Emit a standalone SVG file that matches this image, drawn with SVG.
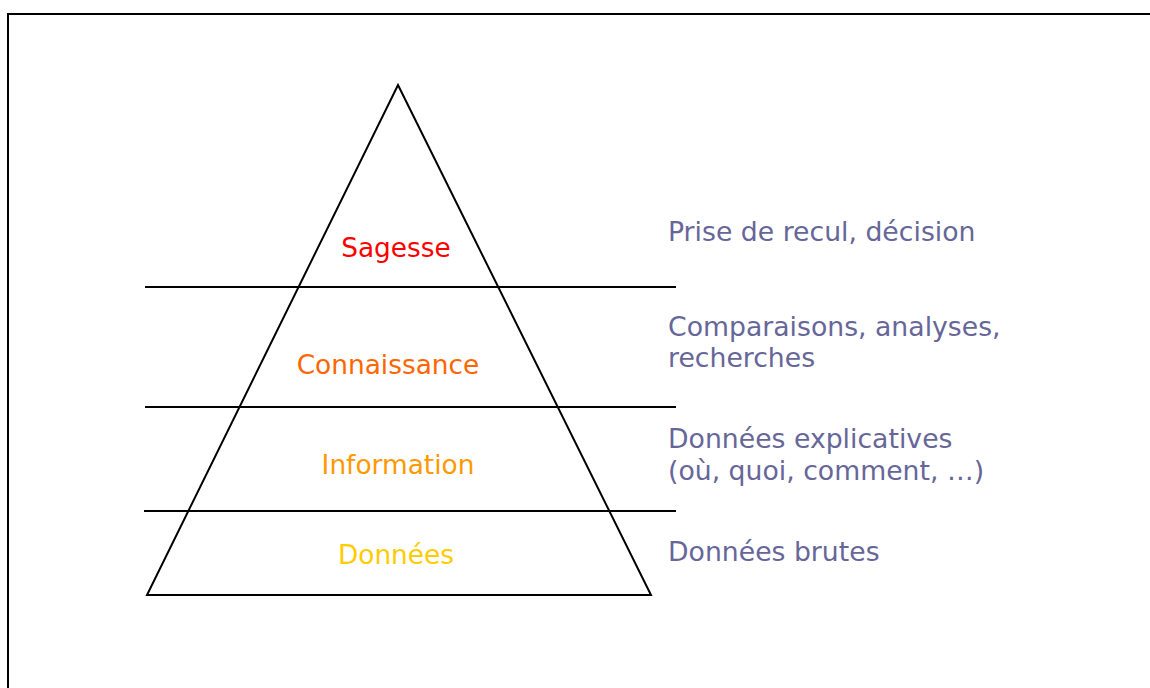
<svg xmlns="http://www.w3.org/2000/svg" width="1150" height="688" viewBox="0 0 1150 688">
<style>
.ln{stroke:#000;stroke-width:2;fill:none}
.lvl{font-family:"DejaVu Sans",Verdana,sans-serif;font-size:26.4px;text-anchor:middle}
.desc{font-family:"DejaVu Sans",Verdana,sans-serif;font-size:26.7px;fill:#666699}
</style>
<rect x="0" y="0" width="1150" height="688" fill="#fff"/>
<rect x="8" y="14" width="1160" height="700" class="ln"/>
<g id="pyramid">
<polygon points="398,85 651,595 147,595" class="ln"/>
</g>
<g id="connectors">
<line x1="145" y1="287" x2="676" y2="287" class="ln"/>
<line x1="145" y1="407" x2="676" y2="407" class="ln"/>
<line x1="144" y1="511" x2="676" y2="511" class="ln"/>
</g>
<g id="sagesse"><text x="396" y="257" class="lvl" fill="#ff0000">Sagesse</text><text x="668" y="241" class="desc">Prise de recul, décision</text></g>
<g id="connaissance"><text x="388" y="374" class="lvl" fill="#ff6600">Connaissance</text><text x="668" y="336" class="desc">Comparaisons, analyses,</text><text x="668" y="367" class="desc">recherches</text></g>
<g id="information"><text x="398" y="474" class="lvl" fill="#ff9900">Information</text><text x="668" y="448" class="desc">Données explicatives</text><text x="668" y="480" class="desc">(où, quoi, comment, …)</text></g>
<g id="donnees"><text x="396" y="564" class="lvl" fill="#ffcc00">Données</text><text x="668" y="561" class="desc">Données brutes</text></g>
</svg>
